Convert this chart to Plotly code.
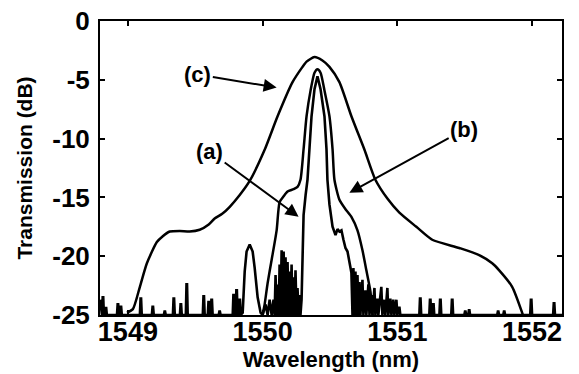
import plotly.graph_objects as go

# ---------------- data ----------------
FLOOR = -25.0

# curve (c): broad transmission peak
c_wl = [1548.993, 1549.037, 1549.089, 1549.141, 1549.215, 1549.259, 1549.311, 1549.385,
        1549.459, 1549.533, 1549.600, 1549.644, 1549.700, 1549.756, 1549.830, 1549.904,
        1550.015, 1550.111, 1550.222, 1550.296, 1550.326, 1550.385, 1550.444, 1550.496,
        1550.570, 1550.659, 1550.756, 1550.837, 1550.926, 1551.015, 1551.141, 1551.259,
        1551.459, 1551.607, 1551.704, 1551.756, 1551.852, 1551.926, 1551.945]
c_db = [-24.8, -24.5, -22.6, -20.6, -18.8, -18.3, -17.9, -17.85,
        -17.9, -17.75, -17.3, -16.8, -16.4, -15.8, -14.8, -13.6,
        -10.95, -8.1, -5.2, -3.9, -3.45, -3.07, -3.36, -3.9,
        -5.2, -8.1, -10.95, -13.5, -15.1, -16.3, -17.5, -18.6,
        -19.3, -19.9, -20.6, -21.2, -22.6, -24.8, -25.5]

# curve (b): narrower smooth peak with shoulders
b_wl = [1549.995, 1550.000, 1550.015, 1550.037, 1550.067, 1550.104, 1550.126, 1550.156,
        1550.185, 1550.230, 1550.259, 1550.281, 1550.304, 1550.326, 1550.356, 1550.385,
        1550.407, 1550.430, 1550.459, 1550.496, 1550.519, 1550.533, 1550.570, 1550.615,
        1550.659, 1550.704, 1550.741, 1550.770, 1550.800, 1550.815, 1550.822]
b_db = [-25.5, -25.0, -24.1, -22.3, -20.3, -17.8, -15.4, -14.9,
        -14.5, -14.3, -14.1, -13.5, -10.9, -8.1, -5.9, -4.4,
        -4.1, -4.4, -5.9, -8.1, -10.9, -13.5, -15.2, -16.0,
        -16.65, -17.8, -19.5, -21.2, -23.0, -24.8, -25.5]

# curve (a): measured (noisy) narrow peak, central part
a_wl = [1549.852, 1549.867, 1549.881, 1549.904, 1549.926, 1549.941, 1549.963, 1549.985,
        1550.000, 1550.022, 1550.037, 1550.052, 1550.067,
        1550.081, 1550.089, 1550.096, 1550.104, 1550.111, 1550.119, 1550.126, 1550.133,
        1550.141, 1550.148, 1550.156, 1550.163, 1550.170, 1550.178, 1550.185, 1550.193,
        1550.200, 1550.207, 1550.215, 1550.222, 1550.230, 1550.237, 1550.244, 1550.252,
        1550.259, 1550.267, 1550.274, 1550.281,
        1550.289, 1550.296, 1550.304, 1550.319, 1550.333, 1550.348, 1550.363, 1550.385,
        1550.407, 1550.430, 1550.459, 1550.474, 1550.481, 1550.496, 1550.519, 1550.541,
        1550.556, 1550.570, 1550.585, 1550.600, 1550.615, 1550.630, 1550.644, 1550.659,
        1550.667, 1550.674, 1550.681, 1550.689, 1550.696, 1550.704, 1550.711, 1550.719,
        1550.726, 1550.741, 1550.748, 1550.763, 1550.770, 1550.785, 1550.793, 1550.807,
        1550.815, 1550.830, 1550.837, 1550.852, 1550.859, 1550.881, 1550.889, 1550.904,
        1550.911, 1550.926, 1550.933, 1550.948, 1550.956, 1550.970, 1550.978, 1550.993,
        1551.000, 1551.015, 1551.022]
a_db = [-24.8, -21.3, -19.6, -19.0, -19.6, -21.0, -23.5, -24.8,
        -25.0, -24.1, -25.0, -23.7, -25.0,
        -23.7, -25.0, -21.6, -25.0, -22.4, -25.0, -20.7, -25.0,
        -19.5, -25.0, -19.6, -25.0, -20.1, -25.0, -20.5, -25.0,
        -21.3, -25.0, -20.7, -25.0, -21.8, -25.0, -21.2, -25.0,
        -22.7, -25.0, -23.3, -25.0,
        -23.7, -19.5, -16.5, -14.8, -13.5, -10.8, -8.1, -5.8,
        -4.7, -5.8, -8.1, -10.9, -13.5, -15.6, -17.5, -18.2,
        -17.7, -17.9, -17.8, -18.6, -19.3, -19.6, -20.5, -21.4,
        -25.0, -21.0, -25.0, -21.3, -25.0, -21.6, -25.0, -22.2,
        -25.0, -22.0, -25.0, -22.9, -25.0, -22.4, -25.0, -23.3,
        -25.0, -22.7, -25.0, -23.6, -25.0, -22.6, -25.0, -23.7,
        -25.0, -22.7, -25.0, -23.6, -25.0, -23.7, -25.0, -23.7,
        -25.0, -24.3, -25.0]

# curve (a): isolated noise spikes on the -25 dB floor
spike_wl = [1548.815, 1548.837, 1548.926, 1548.948, 1549.096, 1549.185, 1549.274, 1549.341,
            1549.393, 1549.437, 1549.563, 1549.600, 1549.622, 1549.681, 1549.785, 1549.807,
            1549.830, 1551.170, 1551.244, 1551.267, 1551.319, 1551.407, 1551.504, 1551.533,
            1551.748, 1551.793, 1551.993, 1552.163]
spike_db = [-23.5, -24.4, -24.1, -24.3, -23.6, -24.3, -24.7, -23.6,
            -24.1, -22.4, -23.4, -23.9, -23.7, -24.7, -23.3, -22.9,
            -23.7, -23.6, -23.7, -24.1, -23.7, -23.7, -24.7, -24.6,
            -24.7, -24.7, -23.7, -24.0]

x_ticks = [1549, 1550, 1551, 1552]
y_ticks = [0, -5, -10, -15, -20, -25]
x_range = [1548.793, 1552.222]
y_range = [-25, 0]

# ---------------- assemble curve (a) ----------------
pts = [(x_range[0], -23.7), (x_range[1], FLOOR)]
for w, d in zip(spike_wl, spike_db):
    pts += [(w - 0.007, FLOOR), (w - 0.002, d), (w + 0.002, d), (w + 0.007, FLOOR)]
pts += list(zip(a_wl, a_db))
pts.sort(key=lambda p: p[0])
aw = [p[0] for p in pts]
ad = [p[1] for p in pts]

fig = go.Figure()
fig.add_trace(go.Scatter(x=aw, y=ad, mode="lines", line=dict(color="black", width=2.6),
                         name="(a)", showlegend=False))
fig.add_trace(go.Scatter(x=b_wl, y=b_db, mode="lines", line=dict(color="black", width=2.5, shape="spline", smoothing=0.6),
                         name="(b)", showlegend=False))
fig.add_trace(go.Scatter(x=c_wl, y=c_db, mode="lines", line=dict(color="black", width=2.5, shape="spline", smoothing=0.6),
                         name="(c)", showlegend=False))

lab_font = dict(family="Liberation Sans", size=22, color="black", weight="bold")
ann = [
    dict(text="(c)", x=1550.104, y=-5.66, ax=1549.519, ay=-4.56),
    dict(text="(a)", x=1550.267, y=-16.65, ax=1549.607, ay=-11.1),
    dict(text="(b)", x=1550.644, y=-14.6, ax=1551.496, ay=-9.24),
]
for a in ann:
    fig.add_annotation(x=a["x"], y=a["y"], ax=a["ax"], ay=a["ay"], text=a["text"],
                       xref="x", yref="y", axref="x", ayref="y", showarrow=True,
                       arrowhead=2, arrowsize=1.3, arrowwidth=2, arrowcolor="black",
                       font=lab_font, borderpad=1)

tick_font_x = dict(family="Liberation Sans", size=27, color="black", weight="bold")
tick_font_y = dict(family="Liberation Sans", size=26, color="black", weight="bold")
fig.update_xaxes(range=x_range, tickvals=x_ticks, ticktext=[str(t) for t in x_ticks],
                 showline=True, linewidth=2, linecolor="black", mirror="ticks",
                 ticks="inside", ticklen=5, tickwidth=2, tickcolor="black",
                 showgrid=False, zeroline=False, tickfont=tick_font_x, ticklabelstandoff=-8,
                 automargin=False,
                 title=dict(text="Wavelength (nm)", standoff=0,
                            font=dict(family="Liberation Sans", size=22, color="black", weight="bold")))
fig.update_yaxes(range=y_range, tickvals=y_ticks, ticktext=[str(t) for t in y_ticks],
                 showline=True, linewidth=2, linecolor="black", mirror="ticks",
                 ticks="inside", ticklen=5, tickwidth=2, tickcolor="black",
                 showgrid=False, zeroline=False, tickfont=tick_font_y, ticklabelstandoff=3,
                 automargin=False,
                 title=dict(text="Transmission (dB)", standoff=14,
                            font=dict(family="Liberation Sans", size=21, color="black", weight="bold")))
fig.update_layout(width=579, height=374, margin=dict(l=100, r=17, t=21, b=59, autoexpand=False),
                  paper_bgcolor="white", plot_bgcolor="white", showlegend=False)
fig.write_html("out.html")
